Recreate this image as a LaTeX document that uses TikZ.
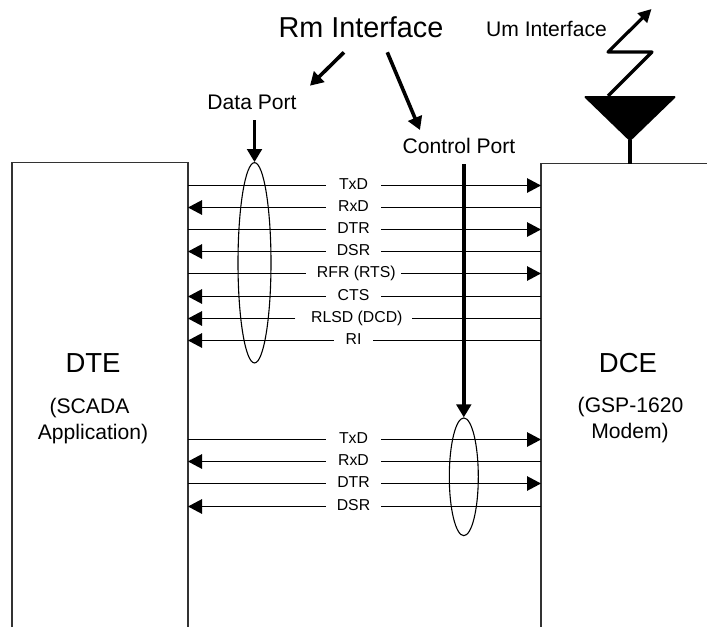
\documentclass[tikz,border=0pt]{standalone}
\usepackage{fontspec}
\setmainfont{Liberation Sans}
\usetikzlibrary{arrows.meta,shapes.geometric}
\tikzset{
  sigline/.style={line width=1.25pt},
  sigtip/.style={line width=1.25pt,-{Triangle[length=14pt,width=14.5pt]}},
  fatarrow/.style={line width=3.6pt,-{Triangle[length=13pt,width=14.5pt]}},
  siglabel/.style={font=\fontsize{15.8}{18}\selectfont,inner xsep=0pt,inner ysep=0pt,
    minimum width=55pt,text height=11.4pt,text depth=3pt},
  biglabel/.style={font=\fontsize{21.1}{24}\selectfont,inner sep=0pt},
  bundle/.style={draw,ellipse,inner sep=0pt,line width=1.1pt},
}
\begin{document}
\begin{tikzpicture}[x=1pt,y=-1pt]
  \useasboundingbox (0,0) rectangle (707,627);

  % boxes
  \draw[line width=1.3pt,color=black!80] (12,627) -- (12,162.7) -- (188,162.7) -- (188,627);
  \draw[line width=1.3pt,color=black!80] (707,163.7) -- (541,163.7) -- (541,627);

  \node[font=\fontsize{27.5}{30}\selectfont,inner sep=0pt] (dte) at (93,363) {DTE};
  \node[biglabel] (scada) at (89.5,408) {(SCADA};
  \node[biglabel] (application) at (93,434) {Application)};
  \node[font=\fontsize{27.5}{30}\selectfont,inner sep=0pt] (dce) at (628,363) {DCE};
  \node[biglabel] (gsp) at (630.5,407) {(GSP-1620};
  \node[biglabel] (modem) at (630,433) {Modem)};

  % signals, dte to dce
  \foreach \n/\py/\lbl in {txa/185.5/TxD,dtra/229.5/DTR,txb/439.5/TxD,dtrb/483.5/DTR} {
    \coordinate (\n l) at (188,\py);
    \coordinate (\n r) at (541,\py);
    \node[siglabel] (\n) at (353.5,\py) {\lbl};
    \draw[sigline] (\n l) -- (\n);
    \draw[sigtip] (\n) -- (\n r);
  }
  \coordinate (rfrl) at (188,273.5);
  \coordinate (rfrr) at (541,273.5);
  \node[siglabel,minimum width=94.3pt] (rfr) at (353.8,273.5) {\hspace*{5pt}RFR (RTS)};
  \draw[sigline] (rfrl) -- (rfr);
  \draw[sigtip] (rfr) -- (rfrr);

  % signals, dce to dte
  \foreach \n/\py/\lbl in {rxa/207.5/RxD,dsra/251.5/DSR,cts/296.5/CTS,rxb/461.5/RxD,dsrb/506.5/DSR} {
    \coordinate (\n l) at (188,\py);
    \coordinate (\n r) at (541,\py);
    \node[siglabel] (\n) at (353.5,\py) {\lbl};
    \draw[sigline] (\n r) -- (\n);
    \draw[sigtip] (\n) -- (\n l);
  }
  \coordinate (rlsdl) at (188,318.5);
  \coordinate (rlsdr) at (541,318.5);
  \node[siglabel,minimum width=116.3pt] (rlsd) at (353.8,318.5) {\hspace*{6pt}RLSD (DCD)};
  \draw[sigline] (rlsdr) -- (rlsd);
  \draw[sigtip] (rlsd) -- (rlsdl);
  \coordinate (ril) at (188,340.5);
  \coordinate (rir) at (541,340.5);
  \node[siglabel,minimum width=39pt] (ri) at (353.5,340.5) {RI};
  \draw[sigline] (rir) -- (ri);
  \draw[sigtip] (ri) -- (ril);

  % ports
  \node[font=\fontsize{28.8}{32}\selectfont,inner sep=0pt] (rm) at (361,27) {Rm Interface};
  \node[biglabel] (dataport) at (252,102) {Data Port};
  \node[biglabel] (controlport) at (459,146) {Control Port};
  \node[bundle,minimum width=33pt,minimum height=200.3pt] (databus) at (254.5,262.8) {};
  \node[bundle,minimum width=29pt,minimum height=117.7pt] (controlbus) at (463.8,476.8) {};

  \coordinate (rma) at (344,52.3);
  \coordinate (rmb) at (310,85.7);
  \coordinate (rmc) at (387.3,52.3);
  \coordinate (rmd) at (420,130);
  \coordinate (dataout) at (254.5,120);
  \coordinate (controlout) at (463.8,164);
  \draw[fatarrow] (rma) -- (rmb);
  \draw[fatarrow] (rmc) -- (rmd);
  \draw[fatarrow] (dataout) -- (databus.north);
  \draw[fatarrow,line width=4.6pt] (controlout) -- (controlbus.north);

  % antenna
  \node[biglabel] (um) at (546.5,29) {Um Interface};
  \filldraw[line width=2pt,line join=round] (585.5,97) -- (674.5,97) -- (630,140) -- cycle;
  \draw[line width=3.4pt] (630,140) -- (630,163.7);
  \draw[line width=3.2pt,line join=round,-{Triangle[length=13pt,width=13pt]}]
    (608,96) -- (652,52) -- (608,52) -- (651.5,9);
\end{tikzpicture}
\end{document}
